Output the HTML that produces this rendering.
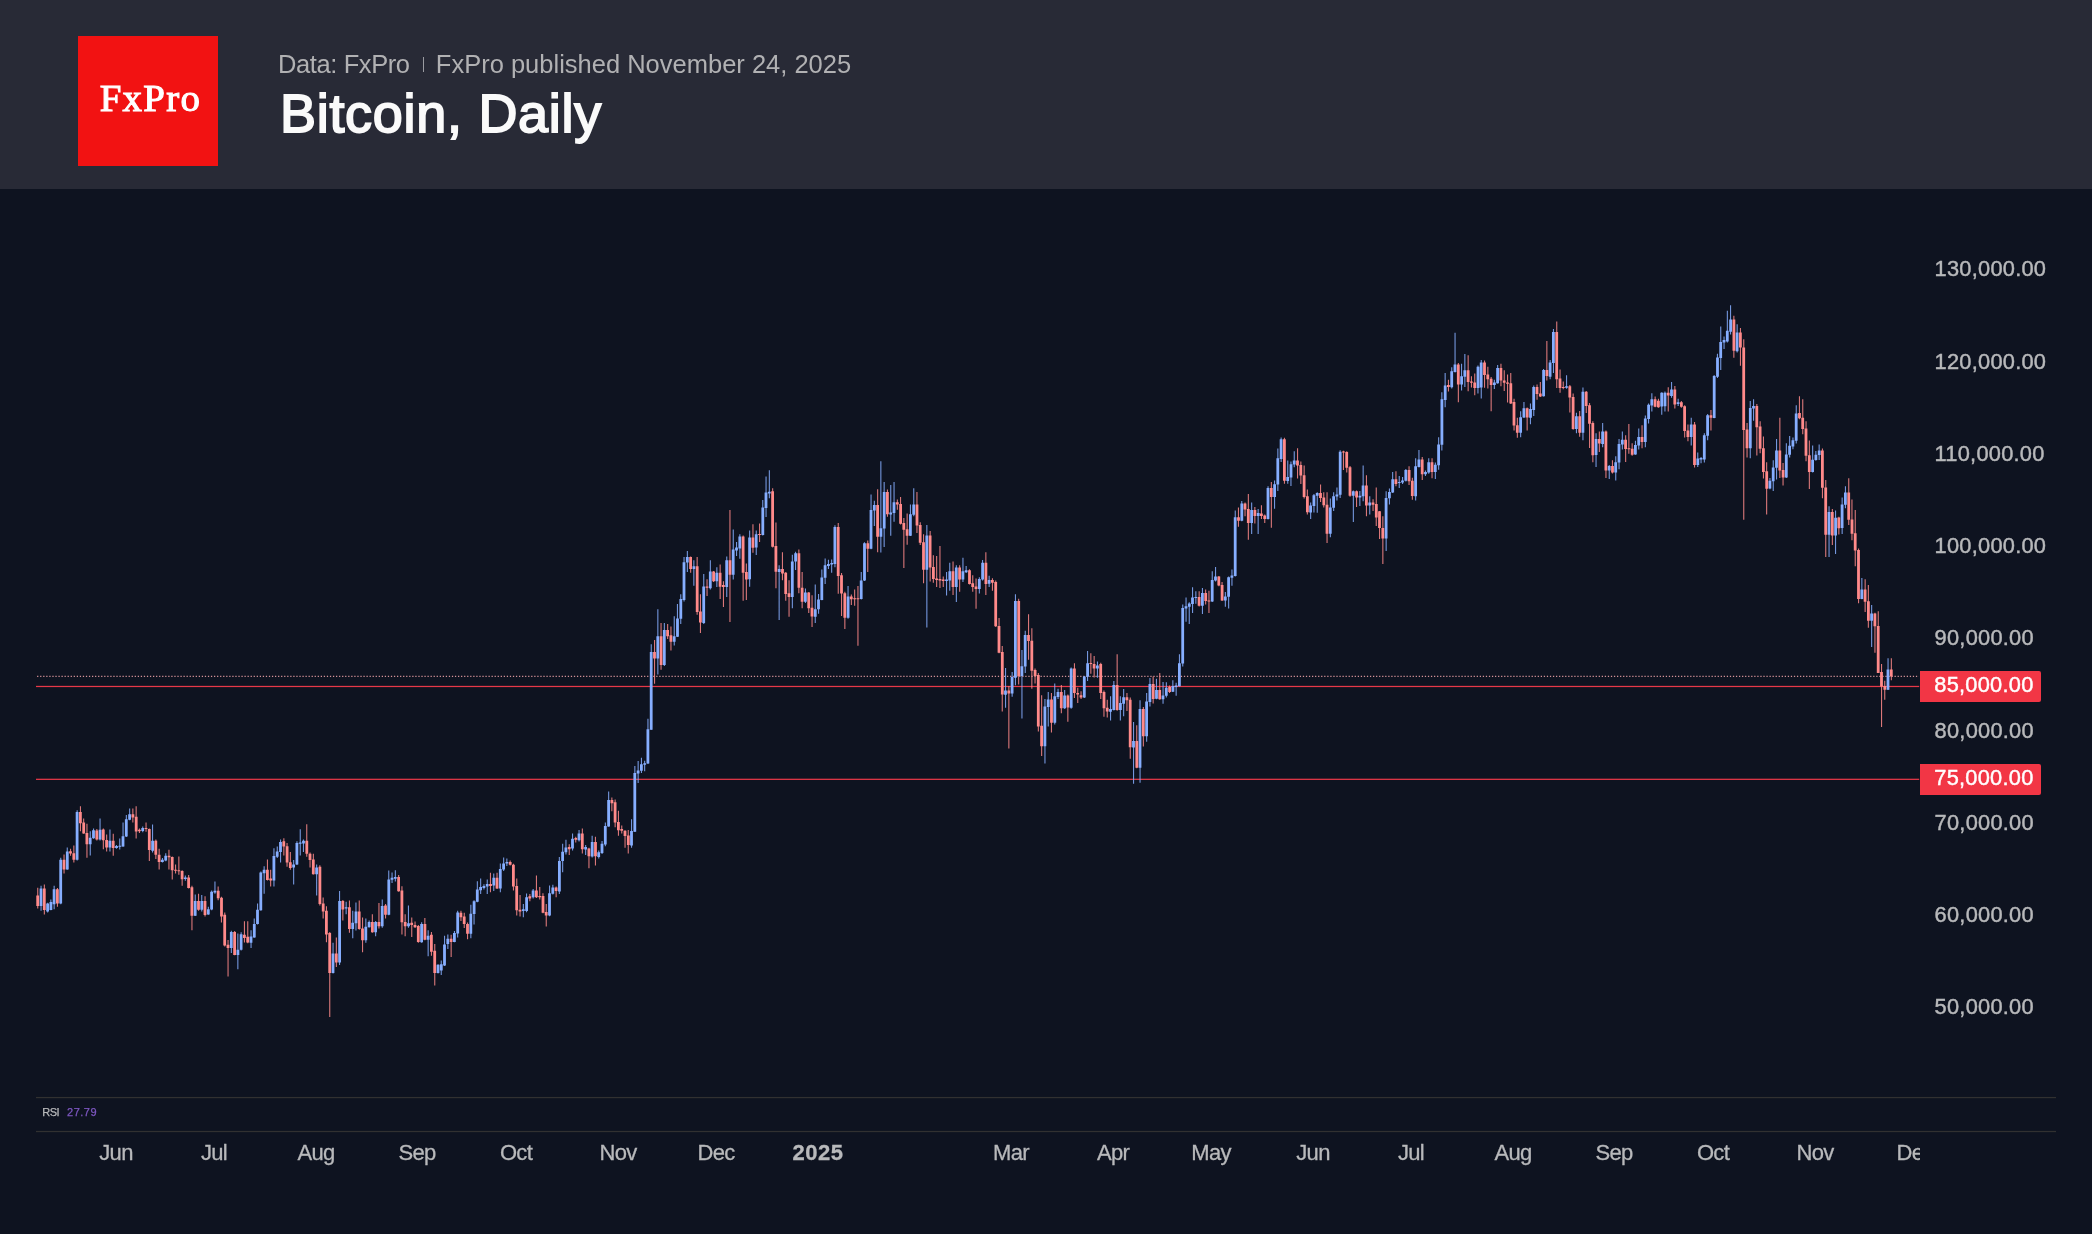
<!DOCTYPE html>
<html><head><meta charset="utf-8">
<style>
html,body{margin:0;padding:0;background:#0e1320;}
body{-webkit-font-smoothing:antialiased;width:2092px;height:1234px;position:relative;overflow:hidden;font-family:"Liberation Sans",sans-serif;}
#hdr{position:absolute;left:0;top:0;width:2092px;height:189px;background:#282a36;}
#logo{position:absolute;left:78px;top:36px;width:140px;height:129.5px;background:#f21212;}
#logo span{will-change:transform;position:absolute;left:0;top:42.2px;width:145px;text-align:center;font-family:"Liberation Serif",serif;font-weight:normal;-webkit-text-stroke:1.1px #fff;font-size:38.9px;color:#fff;letter-spacing:1.3px;line-height:40px;}
#sub{will-change:transform;position:absolute;left:278px;top:47.5px;font-size:25.5px;color:#b1b1b3;line-height:32px;white-space:nowrap;}
#ttl{will-change:transform;position:absolute;left:279.5px;top:81px;font-size:54px;font-weight:normal;color:#fafafa;-webkit-text-stroke:1.8px #fafafa;letter-spacing:0.7px;line-height:64px;white-space:nowrap;}
.pl{-webkit-text-stroke:0.45px #b8b9bb;position:absolute;left:1934.6px;font-size:21.8px;letter-spacing:0.25px;color:#b8b9bb;line-height:24px;white-space:nowrap;}
.ml{-webkit-text-stroke:0.3px #b8b9bb;position:absolute;top:1141.1px;font-size:22px;letter-spacing:-0.7px;color:#b8b9bb;line-height:24px;white-space:nowrap;transform:translateX(-50%);}
.tag{position:absolute;left:1920px;width:121.2px;height:31px;background:#f23645;border-radius:0 2px 2px 0;color:#fff;font-size:21.8px;letter-spacing:0.25px;line-height:30px;}
.tag span{position:absolute;left:14.3px;top:-1.1px;-webkit-text-stroke:0.45px #fff}
svg{position:absolute;left:0;top:0;}
.ml b{letter-spacing:0.5px}
</style></head><body>
<div id="hdr">
<div id="logo"><span>FxPro</span></div>
<div id="sub"><span style="letter-spacing:-0.4px">Data: FxPro</span><span style="display:inline-block;width:1.2px;height:15px;background:#9a9ba1;margin:0 12px 0 13px;vertical-align:1px"></span>FxPro published November 24, 2025</div>
<div id="ttl">Bitcoin, Daily</div>
</div>
<div style="will-change:transform;position:absolute;left:0;top:0;width:2092px;height:1234px">
<svg width="2092" height="1234" viewBox="0 0 2092 1234">
<rect x="36" y="1096.95" width="2020" height="1.25" fill="#313131"/>
<rect x="36" y="1130.9" width="2020" height="1.25" fill="#313131"/>
<line x1="37.1" y1="676.45" x2="1919" y2="676.45" stroke="#d39197" stroke-width="1.25" stroke-dasharray="1.25 1.8"/>
<rect x="36" y="685.85" width="1883.2" height="1.25" fill="#e63848"/>
<rect x="36" y="778.7" width="1883.2" height="1.25" fill="#e63848"/>
<path fill="#86aeff" opacity="0.85" d="M40.5 885.7v25.1h1.1v-25.1zM47.1 902.7v9.7h1.1v-9.7zM50.3 899.4v10.9h1.1v-10.9zM53.6 885.7v23.5h1.1v-23.5zM60.2 857.8v46.5h1.1v-46.5zM66.7 847.6v22.2h1.1v-22.2zM76.6 810.3v50.3h1.1v-50.3zM89.7 831.3v24.3h1.1v-24.3zM93 828.6v10.1h1.1v-10.1zM99.5 818.4v22.2h1.1v-22.2zM109.4 829.4v22.2h1.1v-22.2zM115.9 845.1v3.6h1.1v-3.6zM119.2 838.6v11h1.1v-11zM122.5 822.4v24.3h1.1v-24.3zM125.8 815.1v21.9h1.1v-21.9zM129.1 808.6v11.7h1.1v-11.7zM142.2 826.5v5.7h1.1v-5.7zM152 824.4v28h1.1v-28zM161.9 858.1v4.4h1.1v-4.4zM165.2 853.2v8.1h1.1v-8.1zM184.8 875.4v5.4h1.1v-5.4zM194.7 894.6v21.4h1.1v-21.4zM201.2 895.1v16.5h1.1v-16.5zM207.8 906.7v8.1h1.1v-8.1zM211.1 890.5v19.8h1.1v-19.8zM214.4 881.6v12.2h1.1v-12.2zM230.8 930.7v22.2h1.1v-22.2zM237.3 933.5v35.7h1.1v-35.7zM240.6 932.3v18.2h1.1v-18.2zM250.5 930.3v17.8h1.1v-17.8zM253.7 918.4v19.4h1.1v-19.4zM257 903.6v20.9h1.1v-20.9zM260.3 871.5v39.2h1.1v-39.2zM263.6 866.2v27.6h1.1v-27.6zM273.4 848.3v38.3h1.1v-38.3zM276.7 846.5v11.6h1.1v-11.6zM280 839.4v23.2h1.1v-23.2zM293.1 859.9v24.6h1.1v-24.6zM296.4 841.2v23.7h1.1v-23.7zM299.7 829.3v26.2h1.1v-26.2zM302.9 839.4v12.5h1.1v-12.5zM316.1 864.4v31.2h1.1v-31.2zM332.5 942.8v30.8h1.1v-30.8zM339 891.1v74h1.1v-74zM345.6 901.8v12.5h1.1v-12.5zM352.2 910.7v27.6h1.1v-27.6zM355.4 902.4v28h1.1v-28zM365.3 918.4v24.4h1.1v-24.4zM368.6 920.5v7.1h1.1v-7.1zM375.1 920.9v15.3h1.1v-15.3zM381.7 899.5v28.2h1.1v-28.2zM388.2 870.6v44.6h1.1v-44.6zM391.5 872.4v10.7h1.1v-10.7zM394.8 870.3v11.1h1.1v-11.1zM407.9 905.4v22.3h1.1v-22.3zM421.1 922.3v20.5h1.1v-20.5zM427.6 930.3v25.9h1.1v-25.9zM437.5 964.2v9.4h1.1v-9.4zM440.7 960.6v14.3h1.1v-14.3zM444 935.7v30.3h1.1v-30.3zM447.3 934.4v14.6h1.1v-14.6zM453.9 930.9v11.4h1.1v-11.4zM457.1 910.7v26.7h1.1v-26.7zM470.3 904.8v33.5h1.1v-33.5zM473.5 900.3v24.1h1.1v-24.1zM476.8 881.3v20.9h1.1v-20.9zM480.1 878.6v15.5h1.1v-15.5zM483.4 884.3v5.3h1.1v-5.3zM486.7 879.5v14.6h1.1v-14.6zM493.2 873.6v17.3h1.1v-17.3zM499.8 863.4v28.9h1.1v-28.9zM503.1 857.6v13.4h1.1v-13.4zM506.3 858.4v7.5h1.1v-7.5zM522.8 903.9v13.4h1.1v-13.4zM526 893.6v18.7h1.1v-18.7zM532.6 889.1v9.4h1.1v-9.4zM549 885.5v30.8h1.1v-30.8zM552.3 884.8v9.6h1.1v-9.6zM558.8 857v37.1h1.1v-37.1zM562.1 843.8v28.5h1.1v-28.5zM565.4 839.7v14.8h1.1v-14.8zM572 833.5v16.9h1.1v-16.9zM578.5 829.9v11.6h1.1v-11.6zM585.1 845.1v9.8h1.1v-9.8zM591.6 835.8v21.8h1.1v-21.8zM598.2 850.4v8h1.1v-8zM601.5 841v13h1.1v-13zM604.8 822.4v23.9h1.1v-23.9zM608.1 791.6v35.1h1.1v-35.1zM631 819.3v28.4h1.1v-28.4zM634.3 766.1v65.9h1.1v-65.9zM637.6 761v21.9h1.1v-21.9zM640.9 757.8v15.3h1.1v-15.3zM644.1 760.7v10.5h1.1v-10.5zM647.4 718.7v45.2h1.1v-45.2zM650.7 644.2v85.6h1.1v-85.6zM657.3 609.2v65.3h1.1v-65.3zM663.8 623.1v42.9h1.1v-42.9zM673.7 616.2v29.3h1.1v-29.3zM676.9 603.9v33.2h1.1v-33.2zM680.2 594.2v29.8h1.1v-29.8zM683.5 556.9v44.7h1.1v-44.7zM686.8 551v20.9h1.1v-20.9zM693.3 560.3v25.5h1.1v-25.5zM703.2 574.1v50h1.1v-50zM709.8 560.3v29.3h1.1v-29.3zM716.3 567.2v19.9h1.1v-19.9zM726.2 556.6v40.5h1.1v-40.5zM732.7 529.4v50h1.1v-50zM736 542v14h1.1v-14zM739.3 534.2v24.6h1.1v-24.6zM749.1 530.5v56.3h1.1v-56.3zM755.7 530.5v24.6h1.1v-24.6zM762.2 500.1v35.4h1.1v-35.4zM765.5 476.4v40.5h1.1v-40.5zM768.8 470.3v28h1.1v-28zM778.6 565.3v54.6h1.1v-54.6zM791.8 554.7v53.5h1.1v-53.5zM795 551.7v18.3h1.1v-18.3zM804.9 588.6v14.5h1.1v-14.5zM814.7 584.5v38.6h1.1v-38.6zM818 593.9v19.9h1.1v-19.9zM821.3 569.6v30.6h1.1v-30.6zM824.6 558.4v25.5h1.1v-25.5zM827.9 559.7v9.3h1.1v-9.3zM831.1 559.4v13.4h1.1v-13.4zM834.4 525.3v41.9h1.1v-41.9zM847.5 586.1v32.6h1.1v-32.6zM860.7 572.1v27.4h1.1v-27.4zM863.9 542.3v38.6h1.1v-38.6zM870.5 494.4v54.8h1.1v-54.8zM873.8 500.7v25.4h1.1v-25.4zM880.3 461.2v91.4h1.1v-91.4zM883.6 482.1v64.9h1.1v-64.9zM890.2 485.1v50.7h1.1v-50.7zM893.5 482.1v39.7h1.1v-39.7zM909.9 504.4v31.7h1.1v-31.7zM913.2 488.2v28h1.1v-28zM926.3 525.1v102.4h1.1v-102.4zM946 572.1v23.3h1.1v-23.3zM949.2 562.8v28h1.1v-28zM955.8 565.2v36.7h1.1v-36.7zM962.4 557.8v24.2h1.1v-24.2zM965.6 566v7.1h1.1v-7.1zM978.8 577.2v16.4h1.1v-16.4zM982 560v20.5h1.1v-20.5zM988.6 575.8v11.2h1.1v-11.2zM1005 667.9v39.8h1.1v-39.8zM1011.6 672v24.8h1.1v-24.8zM1014.9 594.3v91h1.1v-91zM1021.4 649.9v68.6h1.1v-68.6zM1024.7 630.8v42.2h1.1v-42.2zM1044.4 698.9v64.7h1.1v-64.7zM1047.7 692.1v34.4h1.1v-34.4zM1054.2 683.6v40.8h1.1v-40.8zM1057.5 688.7v10.2h1.1v-10.2zM1064.1 690v19.1h1.1v-19.1zM1070.6 667.4v41.3h1.1v-41.3zM1083.8 675.9v22.1h1.1v-22.1zM1087 650.9v30.1h1.1v-30.1zM1096.9 661.5v16.2h1.1v-16.2zM1110 696.3v24.3h1.1v-24.3zM1113.3 681v29.4h1.1v-29.4zM1119.8 696.3v24.3h1.1v-24.3zM1123.1 689v27.2h1.1v-27.2zM1133 721.9v61.8h1.1v-61.8zM1139.5 700.3v82.4h1.1v-82.4zM1146.1 692.9v48.8h1.1v-48.8zM1149.4 678.1v28.4h1.1v-28.4zM1155.9 678.8v20.4h1.1v-20.4zM1162.5 681.9v21.8h1.1v-21.8zM1165.8 682.2v15.3h1.1v-15.3zM1172.3 680.2v11.9h1.1v-11.9zM1175.6 682.7v13.1h1.1v-13.1zM1178.9 654.3v32.3h1.1v-32.3zM1182.2 604.5v62.1h1.1v-62.1zM1185.5 597.4v24.4h1.1v-24.4zM1188.7 602.2v21.9h1.1v-21.9zM1192 587.2v25.7h1.1v-25.7zM1195.3 591.2v12.5h1.1v-12.5zM1201.9 587.9v26h1.1v-26zM1211.7 571.2v30.7h1.1v-30.7zM1215 567.1v14.3h1.1v-14.3zM1224.8 592v14.8h1.1v-14.8zM1228.1 576.5v32.1h1.1v-32.1zM1231.4 569.4v16.4h1.1v-16.4zM1234.7 510.6v66h1.1v-66zM1241.2 501.1v20.1h1.1v-20.1zM1251.1 502.4v31.7h1.1v-31.7zM1257.6 509.1v25h1.1v-25zM1267.5 486.3v33.2h1.1v-33.2zM1274 480.6v28.2h1.1v-28.2zM1277.3 448.5v42.4h1.1v-42.4zM1280.6 437.5v24.4h1.1v-24.4zM1287.2 460.6v23.2h1.1v-23.2zM1290.4 461.4v24.6h1.1v-24.6zM1293.7 451.2v16h1.1v-16zM1310.1 502.4v16.6h1.1v-16.6zM1313.4 494v18.4h1.1v-18.4zM1316.7 492.2v20.5h1.1v-20.5zM1329.8 498.4v38.9h1.1v-38.9zM1333.1 492.2v18.7h1.1v-18.7zM1336.4 487.4v13.2h1.1v-13.2zM1339.6 450.3v47.8h1.1v-47.8zM1352.8 490.4v31.6h1.1v-31.6zM1359.3 491v15h1.1v-15zM1362.6 465.5v35.7h1.1v-35.7zM1369.2 496.3v18.2h1.1v-18.2zM1385.6 491.3v59.7h1.1v-59.7zM1388.9 488.5v16h1.1v-16zM1392.1 472.1v20.9h1.1v-20.9zM1398.7 476v11.9h1.1v-11.9zM1402 476.9v7.1h1.1v-7.1zM1405.3 468.9v12.5h1.1v-12.5zM1415.1 458.2v42.3h1.1v-42.3zM1418.4 450.1v17.5h1.1v-17.5zM1424.9 470.6v5.3h1.1v-5.3zM1428.2 458.2v15.5h1.1v-15.5zM1434.8 462.6v16.4h1.1v-16.4zM1438.1 437.3v32.4h1.1v-32.4zM1441.3 392.2v58.3h1.1v-58.3zM1444.6 373.1v34.2h1.1v-34.2zM1451.2 367.2v21.4h1.1v-21.4zM1454.5 332.8v39.8h1.1v-39.8zM1461 363.7v26.7h1.1v-26.7zM1464.3 353.9v33h1.1v-33zM1477.4 365.5v28h1.1v-28zM1480.7 360.1v38.3h1.1v-38.3zM1493.8 379.7v9.4h1.1v-9.4zM1497.1 364.9v18.9h1.1v-18.9zM1520.1 411.3v26h1.1v-26zM1523.4 402v16h1.1v-16zM1529.9 403.4v20.9h1.1v-20.9zM1533.2 385.6v30.3h1.1v-30.3zM1543 369v27.6h1.1v-27.6zM1549.6 360.1v19.1h1.1v-19.1zM1552.9 328.9v44.2h1.1v-44.2zM1566 375.3v13.4h1.1v-13.4zM1575.9 412.7v20.5h1.1v-20.5zM1582.4 387.4v52.9h1.1v-52.9zM1595.5 433.3v33.6h1.1v-33.6zM1602.1 423.1v24.2h1.1v-24.2zM1608.7 465v14h1.1v-14zM1615.2 456.2v24.2h1.1v-24.2zM1618.5 438.9v30.4h1.1v-30.4zM1621.8 431.4v18.1h1.1v-18.1zM1634.9 440.8v14h1.1v-14zM1638.2 428.6v20.9h1.1v-20.9zM1644.8 415.6v31.7h1.1v-31.7zM1648 403.5v19.9h1.1v-19.9zM1651.3 393.2v18.3h1.1v-18.3zM1661.2 392.3v22.4h1.1v-22.4zM1664.4 391.4v20.1h1.1v-20.1zM1671 382v15.8h1.1v-15.8zM1677.6 398.8v7.1h1.1v-7.1zM1690.7 417.8v27.6h1.1v-27.6zM1697.2 452.5v14.4h1.1v-14.4zM1700.5 457v6.2h1.1v-6.2zM1703.8 433.3v29.3h1.1v-29.3zM1707.1 414.1v26.1h1.1v-26.1zM1713.6 374.9v43.4h1.1v-43.4zM1716.9 353.7v24.2h1.1v-24.2zM1720.2 326.5v43.4h1.1v-43.4zM1723.5 336.4v12.5h1.1v-12.5zM1726.8 310.8v31.7h1.1v-31.7zM1730 305.2v29.3h1.1v-29.3zM1736.6 324.2v28.3h1.1v-28.3zM1749.7 401.1v57.1h1.1v-57.1zM1753 399.2v21.6h1.1v-21.6zM1769.4 478.1v11.2h1.1v-11.2zM1772.7 460.3v30.8h1.1v-30.8zM1776 438.9v40.5h1.1v-40.5zM1785.8 443.2v34.9h1.1v-34.9zM1789.1 436.1v21.4h1.1v-21.4zM1792.4 437.6v11.6h1.1v-11.6zM1795.7 405.3v38.2h1.1v-38.2zM1812.1 445.5v27h1.1v-27zM1815.3 451.1v9.7h1.1v-9.7zM1818.6 444.4v15.7h1.1v-15.7zM1828.5 506.3v50.8h1.1v-50.8zM1835 510.6v43.4h1.1v-43.4zM1841.6 497.4v36.7h1.1v-36.7zM1844.9 486.3v21.9h1.1v-21.9zM1861.3 578.1v21.1h1.1v-21.1zM1871.1 605.1v41.9h1.1v-41.9zM1887.5 658.2v31.9h1.1v-31.9z"/>
<path fill="#ff8a8a" opacity="0.85" d="M37.2 887.8v20.6h1.1v-20.6zM43.8 884.5v30h1.1v-30zM56.9 888.1v18.6h1.1v-18.6zM63.5 854.5v19h1.1v-19zM70 848.7v7h1.1v-7zM73.3 845.6v17h1.1v-17zM79.9 806.2v25.1h1.1v-25.1zM83.1 818.4v15.4h1.1v-15.4zM86.4 823.7v34h1.1v-34zM96.3 828.9v11.7h1.1v-11.7zM102.8 828.6v20.6h1.1v-20.6zM106.1 834.6v17h1.1v-17zM112.7 833.8v21.9h1.1v-21.9zM132.3 808.6v13.8h1.1v-13.8zM135.6 806.2v32.4h1.1v-32.4zM138.9 828.6v4.4h1.1v-4.4zM145.5 822.4v9.4h1.1v-9.4zM148.8 828.6v32.3h1.1v-32.3zM155.3 839.4v19.5h1.1v-19.5zM158.6 848.7v20.8h1.1v-20.8zM168.4 849.7v19.8h1.1v-19.8zM171.7 856.5v23h1.1v-23zM175 864.6v8.9h1.1v-8.9zM178.3 856.5v18.2h1.1v-18.2zM181.6 870.3v15.4h1.1v-15.4zM188.1 875.1v13.5h1.1v-13.5zM191.4 885.7v44.6h1.1v-44.6zM198 893.8v17h1.1v-17zM204.5 896.2v20.3h1.1v-20.3zM217.6 886.5v13.8h1.1v-13.8zM220.9 896.7v25.9h1.1v-25.9zM224.2 912.4v34h1.1v-34zM227.5 940v36.5h1.1v-36.5zM234.1 931v24.3h1.1v-24.3zM243.9 921.3v21.1h1.1v-21.1zM247.2 921.3v21.9h1.1v-21.9zM266.9 859.6v20.9h1.1v-20.9zM270.1 869.7v16.9h1.1v-16.9zM283.3 838.2v17.3h1.1v-17.3zM286.5 843v23.7h1.1v-23.7zM289.8 851.9v17.8h1.1v-17.8zM306.2 824.3v32.4h1.1v-32.4zM309.5 852.4v15h1.1v-15zM312.8 853.7v20.9h1.1v-20.9zM319.3 865.3v40.1h1.1v-40.1zM322.6 897.4v21h1.1v-21zM325.9 906.3v36h1.1v-36zM329.2 932.1v85h1.1v-85zM335.8 937.5v29.4h1.1v-29.4zM342.3 900v20.5h1.1v-20.5zM348.9 900.6v32.1h1.1v-32.1zM358.7 900.6v29.2h1.1v-29.2zM362 917.5v34.8h1.1v-34.8zM371.8 914.3v18.4h1.1v-18.4zM378.4 903.1v25.5h1.1v-25.5zM385 904.1v14.3h1.1v-14.3zM398.1 875.1v16.6h1.1v-16.6zM401.4 886.3v48.1h1.1v-48.1zM404.6 914.3v21.9h1.1v-21.9zM411.2 917.5v19.4h1.1v-19.4zM414.5 921.4v6.6h1.1v-6.6zM417.8 925v17.8h1.1v-17.8zM424.3 917.9v22.3h1.1v-22.3zM430.9 932.1v23.7h1.1v-23.7zM434.2 944.1v41.5h1.1v-41.5zM450.6 934.8v22.3h1.1v-22.3zM460.4 910.7v10.2h1.1v-10.2zM463.7 912.8v15.2h1.1v-15.2zM467 922.6v16.6h1.1v-16.6zM489.9 872.7v19.6h1.1v-19.6zM496.5 872.7v16.4h1.1v-16.4zM509.6 860.6v5h1.1v-5zM512.9 863.8v26.7h1.1v-26.7zM516.2 878.6v36.9h1.1v-36.9zM519.5 895v21.4h1.1v-21.4zM529.3 894.1v7.1h1.1v-7.1zM535.9 875.4v22.6h1.1v-22.6zM539.2 887v12.5h1.1v-12.5zM542.4 893.2v20.1h1.1v-20.1zM545.7 903.9v22.6h1.1v-22.6zM555.6 886.6v10.7h1.1v-10.7zM568.7 844.2v10.7h1.1v-10.7zM575.2 836.7v5.7h1.1v-5.7zM581.8 828.5v25h1.1v-25zM588.4 847.7v20.5h1.1v-20.5zM594.9 836.7v28.9h1.1v-28.9zM611.3 797.5v13.7h1.1v-13.7zM614.6 799.6v27.6h1.1v-27.6zM617.9 810.7v25h1.1v-25zM621.2 825.5v8h1.1v-8zM624.5 830.3v17.5h1.1v-17.5zM627.7 829.9v23.5h1.1v-23.5zM654 639.9v43.8h1.1v-43.8zM660.5 623.1v46.6h1.1v-46.6zM667.1 624.1v14.9h1.1v-14.9zM670.4 626.5v24.1h1.1v-24.1zM690.1 556.6v16.2h1.1v-16.2zM696.6 556.9v57.8h1.1v-57.8zM699.9 594.2v38.8h1.1v-38.8zM706.5 579.3v16.8h1.1v-16.8zM713 570.9v11.2h1.1v-11.2zM719.6 564.4v34.5h1.1v-34.5zM722.9 581.2v25.7h1.1v-25.7zM729.4 510v111.9h1.1v-111.9zM742.6 535.5v65.3h1.1v-65.3zM745.8 563.5v36.4h1.1v-36.4zM752.4 524.3v28.5h1.1v-28.5zM759 523.4v18.6h1.1v-18.6zM772.1 488.3v59.3h1.1v-59.3zM775.4 522.5v65.8h1.1v-65.8zM781.9 552.3v28h1.1v-28zM785.2 571.9v28.9h1.1v-28.9zM788.5 580.3v36.4h1.1v-36.4zM798.3 549.5v43.8h1.1v-43.8zM801.6 571.9v36.4h1.1v-36.4zM808.2 592v20.9h1.1v-20.9zM811.5 595.2v31.7h1.1v-31.7zM837.7 523v70.8h1.1v-70.8zM841 573.1v42.9h1.1v-42.9zM844.3 591.7v37.3h1.1v-37.3zM850.8 594.5v10.6h1.1v-10.6zM854.1 589.5v16.2h1.1v-16.2zM857.4 586.1v59.7h1.1v-59.7zM867.2 540.4v31.7h1.1v-31.7zM877.1 489.2v63h1.1v-63zM886.9 489.5v27.2h1.1v-27.2zM896.8 499.4v10.3h1.1v-10.3zM900 497v27.6h1.1v-27.6zM903.3 518.1v49.8h1.1v-49.8zM906.6 513.4v31.3h1.1v-31.3zM916.4 491.9v41h1.1v-41zM919.7 522.3v22.7h1.1v-22.7zM923 534.3v49h1.1v-49zM929.6 531.1v50.3h1.1v-50.3zM932.8 555.3v27.4h1.1v-27.4zM936.1 555.9v31.1h1.1v-31.1zM939.4 546v41.9h1.1v-41.9zM942.7 576.4v10.6h1.1v-10.6zM952.5 561.5v33.6h1.1v-33.6zM959.1 565.2v26.5h1.1v-26.5zM968.9 569.3v15.3h1.1v-15.3zM972.2 575.3v16.4h1.1v-16.4zM975.5 578.6v30.2h1.1v-30.2zM985.3 552.2v42.9h1.1v-42.9zM991.9 578.3v12.5h1.1v-12.5zM995.2 580.5v46.6h1.1v-46.6zM998.5 618.1v35.2h1.1v-35.2zM1001.7 646.1v65.5h1.1v-65.5zM1008.3 686.1v62.4h1.1v-62.4zM1018.1 598.8v85.6h1.1v-85.6zM1028 614.2v45.6h1.1v-45.6zM1031.3 628.3v60.4h1.1v-60.4zM1034.5 668.6v15h1.1v-15zM1037.8 673v58.5h1.1v-58.5zM1041.1 695.2v60.7h1.1v-60.7zM1050.9 692.9v39.6h1.1v-39.6zM1060.8 684.9v28.4h1.1v-28.4zM1067.3 694.6v27.2h1.1v-27.2zM1073.9 663.2v34.9h1.1v-34.9zM1077.2 687.8v15.3h1.1v-15.3zM1080.5 691.2v7.7h1.1v-7.7zM1090.3 653.3v20.4h1.1v-20.4zM1093.6 656v21.6h1.1v-21.6zM1100.2 662.8v36.1h1.1v-36.1zM1103.4 690.4v26.4h1.1v-26.4zM1106.7 699.7v17.9h1.1v-17.9zM1116.6 654.3v56.5h1.1v-56.5zM1126.4 692.9v18.2h1.1v-18.2zM1129.7 697.5v61.3h1.1v-61.3zM1136.2 725.3v43h1.1v-43zM1142.8 707.1v39.5h1.1v-39.5zM1152.6 676.4v27.2h1.1v-27.2zM1159.2 673v26.7h1.1v-26.7zM1169 685.6v7.3h1.1v-7.3zM1198.6 591.2v15.2h1.1v-15.2zM1205.1 589.4v15.2h1.1v-15.2zM1208.4 590.8v22.1h1.1v-22.1zM1218.3 576v10.2h1.1v-10.2zM1221.5 581.9v19.1h1.1v-19.1zM1237.9 507.4v19.3h1.1v-19.3zM1244.5 502.4v13.9h1.1v-13.9zM1247.8 494v45.8h1.1v-45.8zM1254.3 507v16.4h1.1v-16.4zM1260.9 505.2v13.7h1.1v-13.7zM1264.2 514.5v8.6h1.1v-8.6zM1270.8 482v45.8h1.1v-45.8zM1283.9 437.8v46h1.1v-46zM1297 448.2v30.3h1.1v-30.3zM1300.3 461.4v22.5h1.1v-22.5zM1303.6 465.5v33h1.1v-33zM1306.8 489.5v25h1.1v-25zM1320 484.5v17.5h1.1v-17.5zM1323.2 492.2v15.2h1.1v-15.2zM1326.5 492.2v50.8h1.1v-50.8zM1342.9 450.7v19.3h1.1v-19.3zM1346.2 451.2v21.4h1.1v-21.4zM1349.5 466v30.7h1.1v-30.7zM1356 490.4v16.6h1.1v-16.6zM1365.9 475.3v41h1.1v-41zM1372.5 499.3v11.6h1.1v-11.6zM1375.7 487.4v38.7h1.1v-38.7zM1379 510.9v28.2h1.1v-28.2zM1382.3 516.3v47.8h1.1v-47.8zM1395.4 471.2v15h1.1v-15zM1408.5 466.2v18.7h1.1v-18.7zM1411.8 477.8v21.9h1.1v-21.9zM1421.7 456.9v23.2h1.1v-23.2zM1431.5 458.2v20.1h1.1v-20.1zM1447.9 379.7v11.9h1.1v-11.9zM1457.8 363.1v39.2h1.1v-39.2zM1467.6 355.3v36h1.1v-36zM1470.9 376.2v11.2h1.1v-11.2zM1474.2 373.5v21.8h1.1v-21.8zM1484 360.6v27.1h1.1v-27.1zM1487.3 366.7v21.9h1.1v-21.9zM1490.6 377.1v34.2h1.1v-34.2zM1500.4 363.7v22.6h1.1v-22.6zM1503.7 370.3v20.7h1.1v-20.7zM1507 374.4v28h1.1v-28zM1510.2 373.1v31h1.1v-31zM1513.5 398.8v31.7h1.1v-31.7zM1516.8 417.7v20h1.1v-20zM1526.6 407.4v23.2h1.1v-23.2zM1536.5 384.5v15.3h1.1v-15.3zM1539.8 382v15h1.1v-15zM1546.3 341v39.6h1.1v-39.6zM1556.2 321.4v66.7h1.1v-66.7zM1559.5 369.6v23.2h1.1v-23.2zM1562.7 381.5v7.7h1.1v-7.7zM1569.3 385.1v27.3h1.1v-27.3zM1572.6 393.5v36.2h1.1v-36.2zM1579.1 410.9v25.9h1.1v-25.9zM1585.7 391v22.1h1.1v-22.1zM1589 402.9v45.1h1.1v-45.1zM1592.3 421.2v41h1.1v-41zM1598.8 431.4v20.5h1.1v-20.5zM1605.4 430.5v47.5h1.1v-47.5zM1611.9 460.3v13.1h1.1v-13.1zM1625.1 435.2v26.7h1.1v-26.7zM1628.3 424v29.8h1.1v-29.8zM1631.6 443.2v12.5h1.1v-12.5zM1641.5 425.3v22.9h1.1v-22.9zM1654.6 396.6v10.6h1.1v-10.6zM1657.9 398.8v8.9h1.1v-8.9zM1667.7 387.3v24.2h1.1v-24.2zM1674.3 386.1v22.4h1.1v-22.4zM1680.8 401.1v6.7h1.1v-6.7zM1684.1 405.3v32.3h1.1v-32.3zM1687.4 424.5v16.8h1.1v-16.8zM1694 422.1v45.3h1.1v-45.3zM1710.4 410v20.5h1.1v-20.5zM1733.3 315.8v41.9h1.1v-41.9zM1739.9 328v37.7h1.1v-37.7zM1743.2 339.2v180.5h1.1v-180.5zM1746.5 423.1v34.5h1.1v-34.5zM1756.3 404v51.6h1.1v-51.6zM1759.6 421.2v32.1h1.1v-32.1zM1762.9 436.5v42.1h1.1v-42.1zM1766.1 462.2v52.2h1.1v-52.2zM1779.3 417.8v60.2h1.1v-60.2zM1782.5 463.1v22.4h1.1v-22.4zM1798.9 396.2v23.1h1.1v-23.1zM1802.2 399.3v35h1.1v-35zM1805.5 421.3v40h1.1v-40zM1808.8 440.4v48.7h1.1v-48.7zM1821.9 448.5v49.7h1.1v-49.7zM1825.2 480.1v77h1.1v-77zM1831.8 509.1v36h1.1v-36zM1838.3 516.8v17.6h1.1v-17.6zM1848.2 478.3v46.8h1.1v-46.8zM1851.4 499.4v40.8h1.1v-40.8zM1854.7 510.1v56.2h1.1v-56.2zM1858 548.4v54.8h1.1v-54.8zM1864.6 579.2v32.8h1.1v-32.8zM1867.8 585v42.8h1.1v-42.8zM1874.4 612.8v40h1.1v-40zM1877.7 611.2v61.9h1.1v-61.9zM1881 663.9v63.1h1.1v-63.1zM1884.2 680.8v18.9h1.1v-18.9zM1890.8 658.2v22h1.1v-22z"/>
<path fill="#86aeff" d="M39.6 888.6v17.3h2.8v-17.3zM46.2 903.5v8.1h2.8v-8.1zM49.5 901.9v8.1h2.8v-8.1zM52.7 889.2v15.1h2.8v-15.1zM59.3 859.7v43.8h2.8v-43.8zM65.9 851.6v17.8h2.8v-17.8zM75.7 811.9v47.8h2.8v-47.8zM88.8 837.8v6.5h2.8v-6.5zM92.1 830.2v8.1h2.8v-8.1zM98.7 829.7v9.7h2.8v-9.7zM108.5 840.7v6.8h2.8v-6.8zM115.1 845.9v2.1h2.8v-2.1zM118.4 845.8v1h2.8v-1zM121.6 836.2v10.2h2.8v-10.2zM124.9 819.2v17.3h2.8v-17.3zM128.2 814.3v5.4h2.8v-5.4zM141.3 828.1v2.9h2.8v-2.9zM151.2 840.7v10.1h2.8v-10.1zM161 859.7v2.4h2.8v-2.4zM164.3 855.7v4.9h2.8v-4.9zM184 877.5v1.6h2.8v-1.6zM193.8 901.1v14.6h2.8v-14.6zM200.4 901.1v8.6h2.8v-8.6zM206.9 909.2v5.4h2.8v-5.4zM210.2 891.8v17.8h2.8v-17.8zM213.5 890.8v1.6h2.8v-1.6zM229.9 931.9v16.2h2.8v-16.2zM236.5 949.7v5.4h2.8v-5.4zM239.7 934.3v15.4h2.8v-15.4zM249.6 936.6v6.2h2.8v-6.2zM252.9 924.1v13.4h2.8v-13.4zM256.1 909.8v14.3h2.8v-14.3zM259.4 872.4v37.8h2.8v-37.8zM262.7 869.7v3.6h2.8v-3.6zM272.5 856v24.4h2.8v-24.4zM275.8 851.4v5.3h2.8v-5.3zM279.1 842.1v9.8h2.8v-9.8zM292.2 864.4v3h2.8v-3zM295.5 843v21.4h2.8v-21.4zM298.8 842.6v1.2h2.8v-1.2zM302.1 840.7v2.9h2.8v-2.9zM315.2 867.4v6.8h2.8v-6.8zM331.6 953.5v19.6h2.8v-19.6zM338.2 900.9v61.5h2.8v-61.5zM344.7 907.2v1.2h2.8v-1.2zM351.3 922.7v6.4h2.8v-6.4zM354.6 911.6v11.6h2.8v-11.6zM364.4 926.8v13.4h2.8v-13.4zM367.7 922v5.3h2.8v-5.3zM374.2 922v10.2h2.8v-10.2zM380.8 905.9v20.3h2.8v-20.3zM387.4 879.5v35.3h2.8v-35.3zM390.6 877.7v2.1h2.8v-2.1zM393.9 876.9v1.8h2.8v-1.8zM407.1 923.2v3h2.8v-3zM420.2 924.1v18.2h2.8v-18.2zM426.7 935.7v4.1h2.8v-4.1zM436.6 964.7v8.4h2.8v-8.4zM439.9 964.2v6.2h2.8v-6.2zM443.1 944.6v20.9h2.8v-20.9zM446.4 938.7v5.3h2.8v-5.3zM453 933v8.9h2.8v-8.9zM456.3 912.5v20.9h2.8v-20.9zM469.4 913.7v20h2.8v-20zM472.7 901.2v12.8h2.8v-12.8zM475.9 889.6v12.1h2.8v-12.1zM479.2 887v3.2h2.8v-3.2zM482.5 886.1v1.8h2.8v-1.8zM485.8 883.9v2.5h2.8v-2.5zM492.4 877.7v7.8h2.8v-7.8zM498.9 869.1v19.3h2.8v-19.3zM502.2 863.4v6.1h2.8v-6.1zM505.5 862v1.4h2.8v-1.4zM521.9 909.3v1.8h2.8v-1.8zM525.2 897.3v13.7h2.8v-13.7zM531.7 890.5v6.8h2.8v-6.8zM548.1 893.2v22.3h2.8v-22.3zM551.4 887.5v6.2h2.8v-6.2zM558 861.1v30.3h2.8v-30.3zM561.2 851.8v9.3h2.8v-9.3zM564.5 847.4v4.8h2.8v-4.8zM571.1 838.8v9.8h2.8v-9.8zM577.6 833.5v6.8h2.8v-6.8zM584.2 846.9v2.7h2.8v-2.7zM590.8 842v14.6h2.8v-14.6zM597.3 852.2v4.8h2.8v-4.8zM600.6 843.8v9.3h2.8v-9.3zM603.9 826v18.5h2.8v-18.5zM607.2 800v26.4h2.8v-26.4zM630.1 831v14.6h2.8v-14.6zM633.4 773.1v58.6h2.8v-58.6zM636.7 770.5v2.9h2.8v-2.9zM640 764.3v6.4h2.8v-6.4zM643.3 763.2v1.5h2.8v-1.5zM646.5 729.3v34.1h2.8v-34.1zM649.8 652v77.7h2.8v-77.7zM656.4 636.2v22.4h2.8v-22.4zM662.9 630v35.1h2.8v-35.1zM672.8 636.2v5.6h2.8v-5.6zM676.1 618.5v18.3h2.8v-18.3zM679.4 598.9v19.9h2.8v-19.9zM682.6 562.2v37.7h2.8v-37.7zM685.9 556.9v5.6h2.8v-5.6zM692.5 566.3v2.8h2.8v-2.8zM702.3 586.4v36.7h2.8v-36.7zM708.9 571.5v16.8h2.8v-16.8zM715.4 572.8v8.4h2.8v-8.4zM725.3 560.3v26.8h2.8v-26.8zM731.8 549.5v25.2h2.8v-25.2zM735.1 547.6v2.8h2.8v-2.8zM738.4 536.4v12.1h2.8v-12.1zM748.2 537.4v41.9h2.8v-41.9zM754.8 534.2v13.4h2.8v-13.4zM761.4 507.5v27.4h2.8v-27.4zM764.6 492.6v15.5h2.8v-15.5zM767.9 491.7v1.9h2.8v-1.9zM777.8 569.1v2.8h2.8v-2.8zM790.9 561.6v35.4h2.8v-35.4zM794.2 553.2v8.4h2.8v-8.4zM804 592.4v9.3h2.8v-9.3zM813.9 609.2v7.5h2.8v-7.5zM817.1 599.5v9.7h2.8v-9.7zM820.4 577.5v22.4h2.8v-22.4zM823.7 565.3v12.5h2.8v-12.5zM827 564v1.9h2.8v-1.9zM830.3 563.1v1.3h2.8v-1.3zM833.5 527.1v36.9h2.8v-36.9zM846.7 596.4v21.4h2.8v-21.4zM859.8 580.5v18.6h2.8v-18.6zM863.1 543.2v37.3h2.8v-37.3zM869.6 510v38.8h2.8v-38.8zM872.9 505v5.6h2.8v-5.6zM879.5 528.3v8.4h2.8v-8.4zM882.8 491.9v36.7h2.8v-36.7zM889.3 512.5v1.9h2.8v-1.9zM892.6 502.2v10.8h2.8v-10.8zM909 514.3v21.4h2.8v-21.4zM912.3 504.4v10.4h2.8v-10.4zM925.4 535.4v34.3h2.8v-34.3zM945.1 579.6v1.3h2.8v-1.3zM948.4 571.2v9.3h2.8v-9.3zM954.9 567.5v19.6h2.8v-19.6zM961.5 571.2v8.4h2.8v-8.4zM964.8 570.3v1.9h2.8v-1.9zM977.9 579v9.9h2.8v-9.9zM981.2 562.8v16.8h2.8v-16.8zM987.7 580.1v3.7h2.8v-3.7zM1004.1 690.4v4.3h2.8v-4.3zM1010.7 677.1v16.3h2.8v-16.3zM1014 601.1v76.6h2.8v-76.6zM1020.5 666.2v9.7h2.8v-9.7zM1023.8 635.1v31.5h2.8v-31.5zM1043.5 706.6v39.6h2.8v-39.6zM1046.8 699.4v7.7h2.8v-7.7zM1053.4 696.3v26.4h2.8v-26.4zM1056.6 692.1v4.8h2.8v-4.8zM1063.2 695.5v12.8h2.8v-12.8zM1069.8 668.6v39.1h2.8v-39.1zM1082.9 676.4v21.1h2.8v-21.1zM1086.2 663.2v13.6h2.8v-13.6zM1096 665.4v3.2h2.8v-3.2zM1109.1 709.1v2.6h2.8v-2.6zM1112.4 684.9v25h2.8v-25zM1119 703.1v6.8h2.8v-6.8zM1122.2 697.2v6.5h2.8v-6.5zM1132.1 741.1v6.3h2.8v-6.3zM1138.6 709.1v58.7h2.8v-58.7zM1145.2 701.4v34.9h2.8v-34.9zM1148.5 683.9v18h2.8v-18zM1155.1 690v8.8h2.8v-8.8zM1161.6 695.5v3.7h2.8v-3.7zM1164.9 687.8v8h2.8v-8zM1171.5 686.1v5.6h2.8v-5.6zM1174.7 685.6v1.4h2.8v-1.4zM1178 663.2v23h2.8v-23zM1181.3 607.9v55.6h2.8v-55.6zM1184.6 606.3v2.3h2.8v-2.3zM1187.9 603.6v3.2h2.8v-3.2zM1191.1 597.4v6.6h2.8v-6.6zM1194.4 596.9v1.1h2.8v-1.1zM1201 592.9v12.8h2.8v-12.8zM1210.8 580.1v21.4h2.8v-21.4zM1214.1 576.5v3.9h2.8v-3.9zM1223.9 596.5v3.9h2.8v-3.9zM1227.2 577.2v19.6h2.8v-19.6zM1230.5 575.5v2.3h2.8v-2.3zM1233.8 517.2v58.8h2.8v-58.8zM1240.4 503.4v17.3h2.8v-17.3zM1250.2 510v13h2.8v-13zM1256.8 513.1v2.9h2.8v-2.9zM1266.6 488.1v30.8h2.8v-30.8zM1273.2 484.2v12.8h2.8v-12.8zM1276.4 458.3v26.2h2.8v-26.2zM1279.7 439.3v19.6h2.8v-19.6zM1286.3 477.1v3.9h2.8v-3.9zM1289.6 464.2v13.2h2.8v-13.2zM1292.8 460.6v3.9h2.8v-3.9zM1309.2 505.6v6.8h2.8v-6.8zM1312.5 495.2v10.7h2.8v-10.7zM1315.8 493.1v2.7h2.8v-2.7zM1328.9 507.4v26.4h2.8v-26.4zM1332.2 496.3v11.4h2.8v-11.4zM1335.5 494.5v2.1h2.8v-2.1zM1338.8 451.7v43.1h2.8v-43.1zM1351.9 491.3v4.5h2.8v-4.5zM1358.5 495.8v1.8h2.8v-1.8zM1361.7 485.6v10.7h2.8v-10.7zM1368.3 502.4v3.2h2.8v-3.2zM1384.7 498.1v40.5h2.8v-40.5zM1388 492v6.2h2.8v-6.2zM1391.3 479.2v13.4h2.8v-13.4zM1397.8 481.9v1.2h2.8v-1.2zM1401.1 480.5v2.1h2.8v-2.1zM1404.4 470.1v10.7h2.8v-10.7zM1414.2 466.2v30h2.8v-30zM1417.5 459.4v7.7h2.8v-7.7zM1424.1 472.1v2.1h2.8v-2.1zM1427.3 462.3v10.2h2.8v-10.2zM1433.9 464.8v7.1h2.8v-7.1zM1437.2 444.4v20.9h2.8v-20.9zM1440.5 399.3v45.5h2.8v-45.5zM1443.8 385.6v14.3h2.8v-14.3zM1450.3 371.3v16h2.8v-16zM1453.6 364.6v7.5h2.8v-7.5zM1460.2 376.2v8.4h2.8v-8.4zM1463.4 370.3v6.4h2.8v-6.4zM1476.6 366.7v21.4h2.8v-21.4zM1479.8 362.4v25h2.8v-25zM1493 382.4v2.7h2.8v-2.7zM1496.2 368.1v15.2h2.8v-15.2zM1519.2 417.2v15.5h2.8v-15.5zM1522.5 408.2v9.4h2.8v-9.4zM1529.1 409.1v8.6h2.8v-8.6zM1532.3 386.9v23.2h2.8v-23.2zM1542.2 369.9v26.4h2.8v-26.4zM1548.7 362.4v14.3h2.8v-14.3zM1552 332.1v31h2.8v-31zM1565.1 386.3v1.4h2.8v-1.4zM1575 416.3v12.8h2.8v-12.8zM1581.5 391.7v41h2.8v-41zM1594.7 438.9v16.2h2.8v-16.2zM1601.2 431.4v12.5h2.8v-12.5zM1607.8 465.9v4.7h2.8v-4.7zM1614.3 462.2v10.3h2.8v-10.3zM1617.6 443.9v18.6h2.8v-18.6zM1620.9 439.8v4.7h2.8v-4.7zM1634 445.1v9.3h2.8v-9.3zM1637.3 437v8.4h2.8v-8.4zM1643.9 418.4v23.7h2.8v-23.7zM1647.2 404.8v14.2h2.8v-14.2zM1650.4 399.2v6.2h2.8v-6.2zM1660.3 392.8v13.8h2.8v-13.8zM1663.6 392.8v13.4h2.8v-13.4zM1670.1 389.5v6.5h2.8v-6.5zM1676.7 402.2v1.9h2.8v-1.9zM1689.8 424.5v12.5h2.8v-12.5zM1696.4 458.5v6.5h2.8v-6.5zM1699.6 458.1v1.3h2.8v-1.3zM1702.9 435.2v24.2h2.8v-24.2zM1706.2 415.2v20.5h2.8v-20.5zM1712.8 376.1v41.8h2.8v-41.8zM1716.1 357.4v19.4h2.8v-19.4zM1719.3 341.9v16.2h2.8v-16.2zM1722.6 340.1v2.4h2.8v-2.4zM1725.9 330.8v10.6h2.8v-10.6zM1729.2 319.6v12.1h2.8v-12.1zM1735.7 332.6v18.6h2.8v-18.6zM1748.9 408.1v40.1h2.8v-40.1zM1752.1 405.9v2.6h2.8v-2.6zM1768.5 480.8v7.8h2.8v-7.8zM1771.8 467.4v13.8h2.8v-13.8zM1775.1 450.6v17.2h2.8v-17.2zM1784.9 454.4v23.1h2.8v-23.1zM1788.2 445.8v8.9h2.8v-8.9zM1791.5 440.2v6.2h2.8v-6.2zM1794.8 413.4v27.4h2.8v-27.4zM1811.2 459.8v12.3h2.8v-12.3zM1814.5 454.7v5.4h2.8v-5.4zM1817.8 450.5v4.6h2.8v-4.6zM1827.6 512.1v22.6h2.8v-22.6zM1834.2 517.8v17.7h2.8v-17.7zM1840.7 504.4v23.7h2.8v-23.7zM1844 492.4v12.3h2.8v-12.3zM1860.4 589.4v9.5h2.8v-9.5zM1870.2 613.5v7.2h2.8v-7.2zM1886.6 669.4v20.3h2.8v-20.3z"/>
<path fill="#ff8a8a" d="M36.3 895.4v10.5h2.8v-10.5zM42.9 888.6v21.4h2.8v-21.4zM56 889.2v14.3h2.8v-14.3zM62.6 859.7v9.7h2.8v-9.7zM69.1 851.3v2.3h2.8v-2.3zM72.4 853.2v6.5h2.8v-6.5zM79 811.9v11.3h2.8v-11.3zM82.3 822.4v11h2.8v-11zM85.5 833v11.3h2.8v-11.3zM95.4 830.5v8.9h2.8v-8.9zM101.9 829.4v10.9h2.8v-10.9zM105.2 839.9v7.6h2.8v-7.6zM111.8 840.7v7.3h2.8v-7.3zM131.5 814.3v3.2h2.8v-3.2zM134.8 816.8v14.6h2.8v-14.6zM138 829.7v1.6h2.8v-1.6zM144.6 828v1h2.8v-1zM147.9 828.9v21.1h2.8v-21.1zM154.4 840.7v14.1h2.8v-14.1zM157.7 854.8v7.3h2.8v-7.3zM167.6 855.7v1.6h2.8v-1.6zM170.8 857v13.3h2.8v-13.3zM174.1 869.8v1h2.8v-1zM177.4 870.2v1h2.8v-1zM180.7 871.1v8.1h2.8v-8.1zM187.2 877.5v10.5h2.8v-10.5zM190.5 887.3v28.4h2.8v-28.4zM197.1 901.1v8.6h2.8v-8.6zM203.6 901.1v13.8h2.8v-13.8zM216.8 890.8v7.5h2.8v-7.5zM220.1 897.8v18.6h2.8v-18.6zM223.3 914.8v30.8h2.8v-30.8zM226.6 944.8v3.2h2.8v-3.2zM233.2 931.9v23.2h2.8v-23.2zM243 934.8v3.1h2.8v-3.1zM246.3 936.7v5.7h2.8v-5.7zM266 869.7v10.2h2.8v-10.2zM269.3 878.6v1.8h2.8v-1.8zM282.4 841.2v5.3h2.8v-5.3zM285.7 846.2v16.4h2.8v-16.4zM288.9 862.2v5.7h2.8v-5.7zM305.4 840.7v13h2.8v-13zM308.6 853.7v6.2h2.8v-6.2zM311.9 859.6v14.6h2.8v-14.6zM318.5 866.7v37.4h2.8v-37.4zM321.8 903.6v8h2.8v-8zM325 910.7v23.7h2.8v-23.7zM328.3 933v40.1h2.8v-40.1zM334.9 953.5v8.9h2.8v-8.9zM341.4 900.9v8.6h2.8v-8.6zM348 907.2v21.9h2.8v-21.9zM357.8 911.6v17.5h2.8v-17.5zM361.1 928.6v11.6h2.8v-11.6zM371 922v10.2h2.8v-10.2zM377.5 922v4.3h2.8v-4.3zM384.1 905.4v9.4h2.8v-9.4zM397.2 876.9v14.3h2.8v-14.3zM400.5 890.6v31.7h2.8v-31.7zM403.8 922v4.3h2.8v-4.3zM410.3 922.7v2.3h2.8v-2.3zM413.6 925v2.3h2.8v-2.3zM416.9 925.9v16h2.8v-16zM423.5 924.1v15.7h2.8v-15.7zM430 934.8v16.9h2.8v-16.9zM433.3 950.8v22.3h2.8v-22.3zM449.7 938.7v3.2h2.8v-3.2zM459.5 912.8v4.5h2.8v-4.5zM462.8 916.4v7.7h2.8v-7.7zM466.1 924.1v9.6h2.8v-9.6zM489.1 883.9v2.1h2.8v-2.1zM495.6 877.7v10.7h2.8v-10.7zM508.8 862v2.7h2.8v-2.7zM512 864.7v21.9h2.8v-21.9zM515.3 886.1v24.1h2.8v-24.1zM518.6 909.8v1.8h2.8v-1.8zM528.4 896.2v2.3h2.8v-2.3zM535 890.5v6.8h2.8v-6.8zM538.3 895.9v1.4h2.8v-1.4zM541.6 895.9v16.9h2.8v-16.9zM544.8 911.9v3.6h2.8v-3.6zM554.7 887.5v3.4h2.8v-3.4zM567.8 846.9v2.3h2.8v-2.3zM574.4 837.9v1.8h2.8v-1.8zM580.9 833.5v15.7h2.8v-15.7zM587.5 848.6v7.7h2.8v-7.7zM594.1 842v14.3h2.8v-14.3zM610.5 800v3.2h2.8v-3.2zM613.7 802.3v20.1h2.8v-20.1zM617 821.9v8.4h2.8v-8.4zM620.3 829v1.8h2.8v-1.8zM623.6 830.8v5.3h2.8v-5.3zM626.9 835.6v9.4h2.8v-9.4zM653.1 652v6.5h2.8v-6.5zM659.7 636.2v28.9h2.8v-28.9zM666.2 630v6.2h2.8v-6.2zM669.5 635.3v6.5h2.8v-6.5zM689.2 556.9v12.1h2.8v-12.1zM695.8 566.3v45.7h2.8v-45.7zM699 611.4v11.2h2.8v-11.2zM705.6 586.4v1.3h2.8v-1.3zM712.2 571.5v9.7h2.8v-9.7zM718.7 572.8v14h2.8v-14zM722 584.9v2.2h2.8v-2.2zM728.6 560.3v14.4h2.8v-14.4zM741.7 536.4v36.4h2.8v-36.4zM745 571.9v7.5h2.8v-7.5zM751.5 537.4v10.3h2.8v-10.3zM758.1 534.1v1h2.8v-1zM771.2 491.3v55.4h2.8v-55.4zM774.5 546.1v25.7h2.8v-25.7zM781.1 569.1v4.3h2.8v-4.3zM784.3 572.8v21.1h2.8v-21.1zM787.6 593.3v3.7h2.8v-3.7zM797.5 553.2v34.5h2.8v-34.5zM800.7 587.7v14h2.8v-14zM807.3 592.4v15.8h2.8v-15.8zM810.6 607.7v8.9h2.8v-8.9zM836.8 527.1v48.8h2.8v-48.8zM840.1 575.3v18.3h2.8v-18.3zM843.4 593.2v24.6h2.8v-24.6zM849.9 596.4v2.8h2.8v-2.8zM853.2 598.2v1h2.8v-1zM856.5 598.2v1h2.8v-1zM866.4 543.2v5.6h2.8v-5.6zM876.2 505v31.7h2.8v-31.7zM886 491.9v22.4h2.8v-22.4zM895.9 502.2v2.2h2.8v-2.2zM899.2 504.1v19.6h2.8v-19.6zM902.4 523.1v6.7h2.8v-6.7zM905.7 529.2v6.5h2.8v-6.5zM915.6 504.4v21.1h2.8v-21.1zM918.8 524.9v17.9h2.8v-17.9zM922.1 542.3v27.4h2.8v-27.4zM928.7 535.4v32.1h2.8v-32.1zM932 567.1v11.9h2.8v-11.9zM935.2 578.6v1.5h2.8v-1.5zM938.5 579v1.5h2.8v-1.5zM941.8 579.6v1.3h2.8v-1.3zM951.6 571.2v15.8h2.8v-15.8zM958.2 567.5v12.1h2.8v-12.1zM968.1 570.3v13.6h2.8v-13.6zM971.3 583.3v3.7h2.8v-3.7zM974.6 586.5v2.4h2.8v-2.4zM984.5 562.8v21.1h2.8v-21.1zM991 580.1v2.6h2.8v-2.6zM994.3 582v44.2h2.8v-44.2zM997.6 626.1v26.7h2.8v-26.7zM1000.9 652.1v42.5h2.8v-42.5zM1007.4 690.4v3.1h2.8v-3.1zM1017.3 601.1v74.9h2.8v-74.9zM1027.1 635.1v6h2.8v-6zM1030.4 640.7v30.1h2.8v-30.1zM1033.7 670v6h2.8v-6zM1036.9 675.1v51.4h2.8v-51.4zM1040.2 725.8v20.4h2.8v-20.4zM1050.1 699.4v23.3h2.8v-23.3zM1059.9 692.1v16.2h2.8v-16.2zM1066.5 695.5v11.9h2.8v-11.9zM1073 668.6v24.3h2.8v-24.3zM1076.3 692.9v1.7h2.8v-1.7zM1079.6 695.2v2.4h2.8v-2.4zM1089.4 663.1v1h2.8v-1zM1092.7 664v4.6h2.8v-4.6zM1099.3 664v28.9h2.8v-28.9zM1102.6 692.1v16.2h2.8v-16.2zM1105.8 707.7v3.9h2.8v-3.9zM1115.7 684.9v25h2.8v-25zM1125.5 697.2v3.1h2.8v-3.1zM1128.8 699.7v47.6h2.8v-47.6zM1135.4 741.1v26.7h2.8v-26.7zM1141.9 709.1v27.2h2.8v-27.2zM1151.8 683.9v15h2.8v-15zM1158.3 690v9.2h2.8v-9.2zM1168.2 687v5.1h2.8v-5.1zM1197.7 596.9v8.9h2.8v-8.9zM1204.3 592.9v8h2.8v-8zM1207.5 600.4v1.1h2.8v-1.1zM1217.4 576.5v8.9h2.8v-8.9zM1220.7 584.9v15.5h2.8v-15.5zM1237.1 517.2v3.6h2.8v-3.6zM1243.6 503.4v6.1h2.8v-6.1zM1246.9 509.1v13.9h2.8v-13.9zM1253.5 510v5.9h2.8v-5.9zM1260 513.6v2.3h2.8v-2.3zM1263.3 515.4v3.6h2.8v-3.6zM1269.9 488.1v8.9h2.8v-8.9zM1283 439.3v41.4h2.8v-41.4zM1296.1 460.6v4.8h2.8v-4.8zM1299.4 464.9v10.7h2.8v-10.7zM1302.7 475.3v21.8h2.8v-21.8zM1306 496.3v16h2.8v-16zM1319.1 493.1v5h2.8v-5zM1322.4 497.6v7.7h2.8v-7.7zM1325.6 504.7v29.1h2.8v-29.1zM1342.1 451.6v1h2.8v-1zM1345.3 452.1v15.7h2.8v-15.7zM1348.6 467.2v28.5h2.8v-28.5zM1355.2 491.3v6.2h2.8v-6.2zM1365 485.6v20h2.8v-20zM1371.6 502.4v2.3h2.8v-2.3zM1374.9 504.1v13.5h2.8v-13.5zM1378.1 511.3v16.6h2.8v-16.6zM1381.4 527.9v10.7h2.8v-10.7zM1394.5 479.2v4.8h2.8v-4.8zM1407.7 470.1v11.2h2.8v-11.2zM1410.9 480.8v15.3h2.8v-15.3zM1420.8 459.4v14.8h2.8v-14.8zM1430.6 462.3v9.6h2.8v-9.6zM1447 385.1v1.8h2.8v-1.8zM1456.9 364.6v20h2.8v-20zM1466.7 370.3v11.8h2.8v-11.8zM1470 381.5v1.2h2.8v-1.2zM1473.3 382.4v5.7h2.8v-5.7zM1483.1 362.4v12.5h2.8v-12.5zM1486.4 374.4v4.8h2.8v-4.8zM1489.7 378.8v6.2h2.8v-6.2zM1499.5 368.1v12.5h2.8v-12.5zM1502.8 380.6v2.1h2.8v-2.1zM1506.1 382.4v1.4h2.8v-1.4zM1509.4 383.3v20.1h2.8v-20.1zM1512.6 402v23.5h2.8v-23.5zM1515.9 425.2v7.5h2.8v-7.5zM1525.8 408.2v9.4h2.8v-9.4zM1535.6 386.9v7.1h2.8v-7.1zM1538.9 393.5v2.9h2.8v-2.9zM1545.5 369.9v6.2h2.8v-6.2zM1555.3 332.1v47.1h2.8v-47.1zM1558.6 378.5v9.6h2.8v-9.6zM1561.9 386.9v1.2h2.8v-1.2zM1568.4 386.3v11.2h2.8v-11.2zM1571.7 397v32.1h2.8v-32.1zM1578.3 416.3v16.4h2.8v-16.4zM1584.8 391.7v14.3h2.8v-14.3zM1588.1 405.2v18.6h2.8v-18.6zM1591.4 423.1v32.1h2.8v-32.1zM1597.9 438.9v4.7h2.8v-4.7zM1604.5 431.4v39.2h2.8v-39.2zM1611.1 465.9v6.5h2.8v-6.5zM1624.2 439.8v9.3h2.8v-9.3zM1627.5 448.2v1h2.8v-1zM1630.8 448.8v6h2.8v-6zM1640.6 437v5h2.8v-5zM1653.7 399.2v7.5h2.8v-7.5zM1657 400.7v6.5h2.8v-6.5zM1666.8 392.8v2.6h2.8v-2.6zM1673.4 389.5v14.9h2.8v-14.9zM1680 402.2v4.5h2.8v-4.5zM1683.2 406.3v24.6h2.8v-24.6zM1686.5 430.5v6.5h2.8v-6.5zM1693.1 424.5v40.5h2.8v-40.5zM1709.5 415.2v2.6h2.8v-2.6zM1732.5 319.6v31.1h2.8v-31.1zM1739 332.6v14.9h2.8v-14.9zM1742.3 347.5v82.6h2.8v-82.6zM1745.6 429.6v18.6h2.8v-18.6zM1755.4 405.9v21.3h2.8v-21.3zM1758.7 426.4v22.4h2.8v-22.4zM1762 448.2v23.7h2.8v-23.7zM1765.3 471.2v17.5h2.8v-17.5zM1778.4 450.6v19.9h2.8v-19.9zM1781.7 470v7.5h2.8v-7.5zM1798.1 413.1v5.1h2.8v-5.1zM1801.3 417.7v11.2h2.8v-11.2zM1804.6 428.5v27.3h2.8v-27.3zM1807.9 455.2v16.9h2.8v-16.9zM1821 450.5v37.3h2.8v-37.3zM1824.3 487.5v47.3h2.8v-47.3zM1830.9 512.1v23.4h2.8v-23.4zM1837.4 517.4v10.8h2.8v-10.8zM1847.3 492.4v27.4h2.8v-27.4zM1850.6 519.4v14.3h2.8v-14.3zM1853.8 533.2v17.4h2.8v-17.4zM1857.1 550.1v48.8h2.8v-48.8zM1863.7 589.4v12.3h2.8v-12.3zM1867 601.2v19.6h2.8v-19.6zM1873.5 613.5v12.8h2.8v-12.8zM1876.8 625.9v47h2.8v-47zM1880.1 672.1v14.3h2.8v-14.3zM1883.4 685.9v3.9h2.8v-3.9zM1889.9 669.4v7.2h2.8v-7.2z"/>
</svg>
<div class="pl" style="top:256.9px">130,000.00</div>
<div class="pl" style="top:349.5px">120,000.00</div>
<div class="pl" style="top:441.6px">110,000.00</div>
<div class="pl" style="top:534px">100,000.00</div>
<div class="pl" style="top:626.3px">90,000.00</div>
<div class="pl" style="top:718.5px">80,000.00</div>
<div class="pl" style="top:810.9px">70,000.00</div>
<div class="pl" style="top:902.8px">60,000.00</div>
<div class="pl" style="top:995.4px">50,000.00</div>
<div class="tag" style="top:671px"><span>85,000.00</span></div>
<div class="tag" style="top:764px"><span>75,000.00</span></div>
<div class="ml" style="left:116px">Jun</div>
<div class="ml" style="left:214px">Jul</div>
<div class="ml" style="left:316px">Aug</div>
<div class="ml" style="left:417px">Sep</div>
<div class="ml" style="left:516px">Oct</div>
<div class="ml" style="left:618px">Nov</div>
<div class="ml" style="left:716px">Dec</div>
<div class="ml" style="left:818px"><b>2025</b></div>
<div class="ml" style="left:1011px">Mar</div>
<div class="ml" style="left:1113px">Apr</div>
<div class="ml" style="left:1211px">May</div>
<div class="ml" style="left:1313px">Jun</div>
<div class="ml" style="left:1411px">Jul</div>
<div class="ml" style="left:1513px">Aug</div>
<div class="ml" style="left:1614px">Sep</div>
<div class="ml" style="left:1713px">Oct</div>
<div class="ml" style="left:1815px">Nov</div>
<div style="position:absolute;left:1896.5px;top:1141.1px;width:23.5px;overflow:hidden;font-size:22px;letter-spacing:-0.7px;color:#b8b9bb;-webkit-text-stroke:0.3px #b8b9bb;line-height:24px;white-space:nowrap">Dec</div>
<div style="position:absolute;left:42.3px;top:1105.6px;font-size:11px;line-height:12px;color:#b8b9bb;-webkit-text-stroke:0.25px #b8b9bb;letter-spacing:-0.6px;white-space:nowrap">RSI<span style="color:#7e57c2;-webkit-text-stroke:0.25px #7e57c2;margin-left:8.2px;letter-spacing:0.5px">27.79</span></div>
</div>
</body></html>
